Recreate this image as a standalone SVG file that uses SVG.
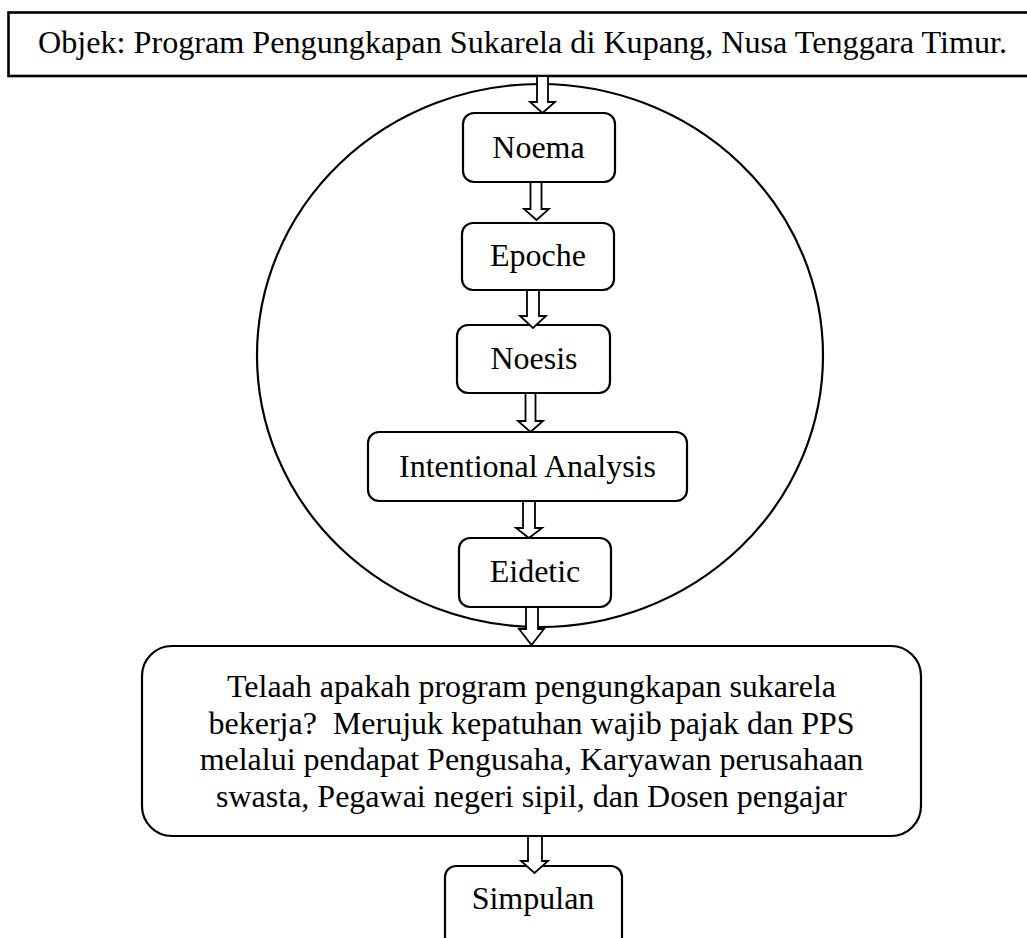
<svg xmlns="http://www.w3.org/2000/svg" width="1027" height="938" viewBox="0 0 1027 938">
<style>
text{font-family:"Liberation Serif","Times New Roman",serif;font-size:32px;fill:#000;text-anchor:middle}
.box{fill:#fff;stroke:#000;stroke-width:2.2}
.arr{fill:#fff;stroke:#000;stroke-width:1.8;stroke-linejoin:miter}
</style>
<rect width="1027" height="938" fill="#fff"/>
<g id="title">
<rect x="8.5" y="12.5" width="1040" height="63.5" fill="#fff" stroke="#000" stroke-width="2.6"/>
<text x="522.5" y="53" textLength="969" lengthAdjust="spacingAndGlyphs">Objek: Program Pengungkapan Sukarela di Kupang, Nusa Tenggara Timur.</text>
</g>
<g id="circle">
<ellipse cx="540" cy="355.5" rx="283" ry="271.5" fill="none" stroke="#000" stroke-width="2.2"/>
</g>
<g id="noema">
<rect class="box" x="463" y="113" width="152" height="69" rx="11"/>
<text x="538.5" y="158">Noema</text>
</g>
<g id="epoche">
<rect class="box" x="462" y="223" width="152" height="67" rx="11"/>
<text x="538" y="266">Epoche</text>
</g>
<g id="noesis">
<rect class="box" x="457" y="325" width="153" height="68" rx="11"/>
<text x="534" y="369">Noesis</text>
</g>
<g id="intentional">
<rect class="box" x="368" y="432" width="319" height="69" rx="11"/>
<text x="527.5" y="477">Intentional Analysis</text>
</g>
<g id="eidetic">
<rect class="box" x="459" y="538" width="152" height="69" rx="11"/>
<text x="535" y="582">Eidetic</text>
</g>
<g id="telaah">
<rect class="box" x="142" y="646" width="779" height="190" rx="30"/>
<text x="531.5" y="697">Telaah apakah program pengungkapan sukarela</text>
<text x="531.5" y="733.5" style="white-space:pre">bekerja?  Merujuk kepatuhan wajib pajak dan PPS</text>
<text x="531.5" y="770">melalui pendapat Pengusaha, Karyawan perusahaan</text>
<text x="531.5" y="806.5">swasta, Pegawai negeri sipil, dan Dosen pengajar</text>
</g>
<g id="simpulan">
<rect class="box" x="445" y="866" width="177" height="90" rx="11"/>
<text x="533" y="909">Simpulan</text>
</g>
<g id="connectors">
<path class="arr" d="M537,76 L548,76 L548,102 L555,102 L542.5,113 L530,102 L537,102 Z"/>
<path class="arr" d="M530.5,182 L541.5,182 L541.5,209 L549,209 L536.5,220 L524,209 L530.5,209 Z"/>
<path class="arr" d="M527,290 L539,290 L539,316 L546,316 L533,328 L520,316 L527,316 Z"/>
<path class="arr" d="M525.5,393 L535.5,393 L535.5,421 L543,421 L530.5,432 L518,421 L525.5,421 Z"/>
<path class="arr" d="M523,501 L535,501 L535,528 L542,528 L529,538 L516,528 L523,528 Z"/>
<path class="arr" d="M526,607 L538,607 L538,629 L544,629 L531.5,645 L519,629 L526,629 Z"/>
<path class="arr" d="M528,836 L542,836 L542,861 L548,861 L534.5,873 L521,861 L528,861 Z"/>
</g>
</svg>
